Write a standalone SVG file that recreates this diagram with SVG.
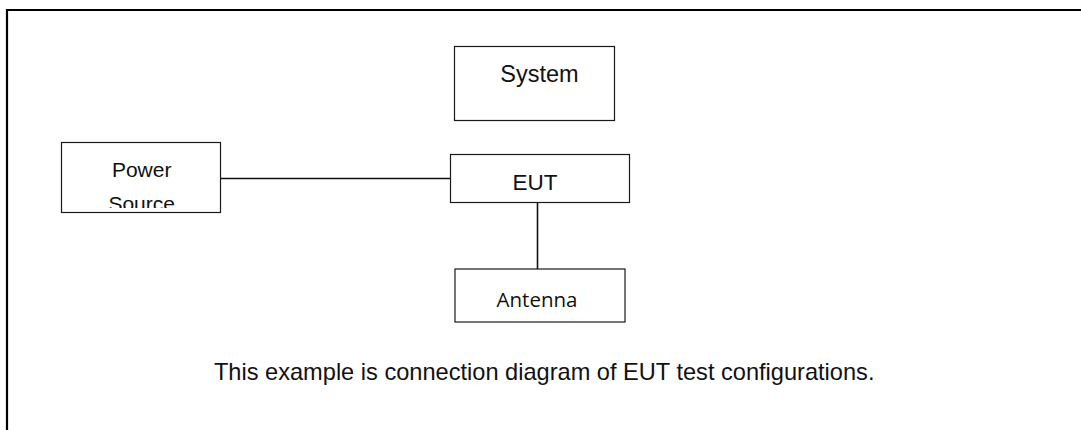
<svg xmlns="http://www.w3.org/2000/svg" width="1081" height="430" viewBox="0 0 1081 430">
<style>
.box{fill:#fff;stroke:#1a1a1a;stroke-width:1.2}
.lbl{font-family:"Liberation Sans",Arial,sans-serif;fill:#111;text-anchor:middle}
.conn{stroke:#111;stroke-width:1.6;fill:none}
</style>
<defs>
<clipPath id="psclip"><rect x="62" y="143" width="158" height="65"/></clipPath>
</defs>
<rect width="1081" height="430" fill="#fff"/>
<g id="frame">
<path d="M7 430 V10 H1081" fill="none" stroke="#000" stroke-width="2.2"/>
</g>
<g id="connectors">
<line class="conn" x1="220.5" y1="178.5" x2="450.5" y2="178.5"/>
<line class="conn" x1="537.5" y1="202.5" x2="537.5" y2="269"/>
</g>
<g id="power-source">
<rect class="box" x="61.5" y="142.5" width="159" height="70"/>
<g clip-path="url(#psclip)">
<text class="lbl" x="141.7" y="176.7" font-size="21">Power</text>
<text class="lbl" x="141.7" y="210.5" font-size="21">Source</text>
</g>
</g>
<g id="system">
<rect class="box" x="454.5" y="46.5" width="160" height="74"/>
<text class="lbl" x="539.5" y="81.7" font-size="23.5">System</text>
</g>
<g id="eut">
<rect class="box" x="450.5" y="154.5" width="179" height="48"/>
<text class="lbl" x="535" y="190" font-size="22.5">EUT</text>
</g>
<g id="antenna">
<rect class="box" x="455" y="269" width="170" height="53"/>
<text x="537" y="306.7" font-size="20.5" font-family="'Open Sans','Noto Sans',sans-serif" fill="#111" text-anchor="middle">Antenna</text>
</g>
<g id="caption">
<text class="lbl" x="544.2" y="379.8" font-size="23.6">This example is connection diagram of EUT test configurations.</text>
</g>
</svg>
